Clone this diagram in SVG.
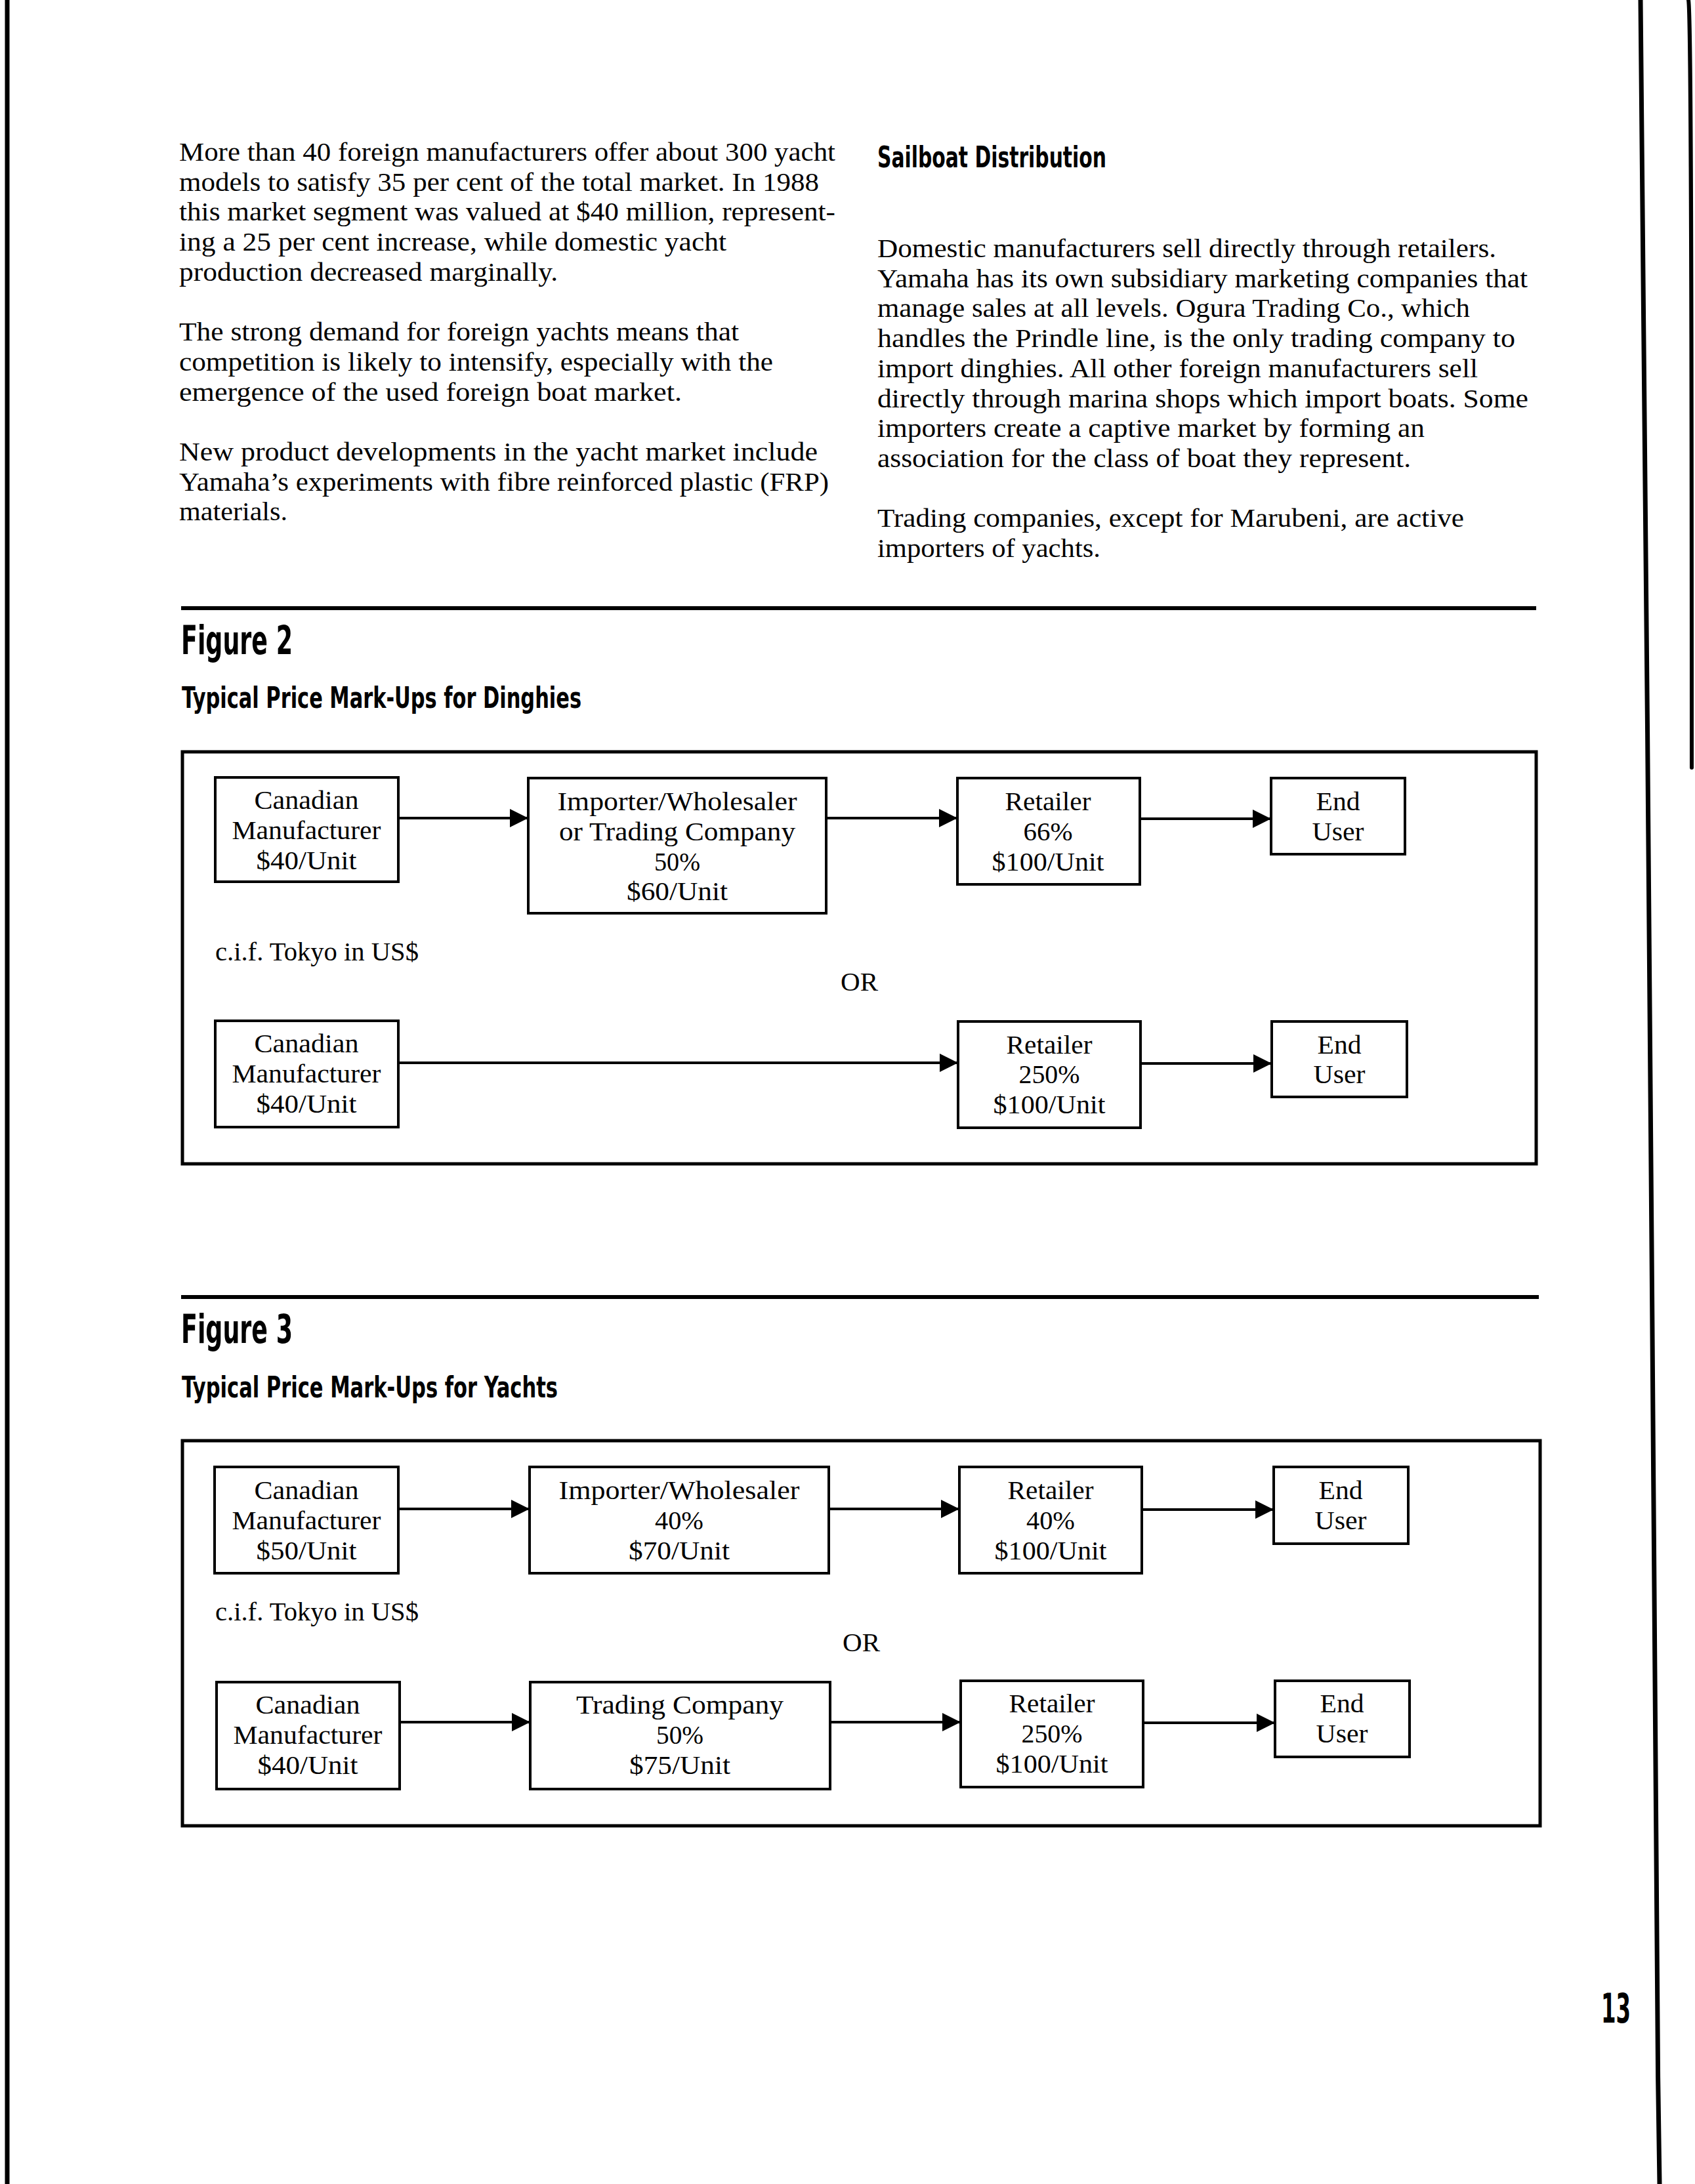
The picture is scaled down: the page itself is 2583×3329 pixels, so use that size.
<svg xmlns="http://www.w3.org/2000/svg" width="2583" height="3329" viewBox="0 0 2583 3329">
<style>
.body{font-family:"Liberation Serif","Times New Roman",serif;font-size:40px;fill:#000}
.nt{font-family:"Liberation Serif","Times New Roman",serif;font-size:41px;fill:#000;text-anchor:middle}
.hd{font-family:"Liberation Sans Narrow","DejaVu Sans Condensed","Liberation Sans",Arial,sans-serif;font-weight:bold;fill:#000}
.box{fill:#fff;stroke:#000;stroke-width:4}
.frame{fill:none;stroke:#000;stroke-width:5}
.rule{stroke:#000;stroke-width:6}
.conn{stroke:#000;stroke-width:4;fill:none;marker-end:url(#arr)}
.edge{stroke:#000;fill:none;stroke-linecap:round}
</style>
<defs>
<marker id="arr" markerUnits="userSpaceOnUse" markerWidth="28" markerHeight="28" refX="28" refY="14" orient="auto">
<path d="M0,0 L28,14 L0,28 z" fill="#000"/>
</marker>
</defs>
<rect x="0" y="0" width="2583" height="3329" fill="#fff"/>

<!-- page edges -->
<g id="page-edges">
<line class="edge" x1="11" y1="0" x2="11" y2="3329" stroke-width="7"/>
<path class="edge" d="M2500,0 C2506,500 2512,1300 2517,1900 C2521,2500 2522,2900 2529,3329" stroke-width="7"/>
<path class="edge" d="M2573,0 C2577,20 2578,400 2578,1170" stroke-width="6"/>
</g>

<!-- left column text -->
<g id="left-text" class="body">
<text x="273" y="245" textLength="1000" lengthAdjust="spacingAndGlyphs">More than 40 foreign manufacturers offer about 300 yacht</text>
<text x="273" y="291" textLength="975" lengthAdjust="spacingAndGlyphs">models to satisfy 35 per cent of the total market. In 1988</text>
<text x="273" y="336" textLength="1000" lengthAdjust="spacingAndGlyphs">this market segment was valued at $40 million, represent-</text>
<text x="273" y="382" textLength="834" lengthAdjust="spacingAndGlyphs">ing a 25 per cent increase, while domestic yacht</text>
<text x="273" y="428" textLength="577" lengthAdjust="spacingAndGlyphs">production decreased marginally.</text>
<text x="273" y="519" textLength="853" lengthAdjust="spacingAndGlyphs">The strong demand for foreign yachts means that</text>
<text x="273" y="565" textLength="905" lengthAdjust="spacingAndGlyphs">competition is likely to intensify, especially with the</text>
<text x="273" y="611" textLength="766" lengthAdjust="spacingAndGlyphs">emergence of the used foreign boat market.</text>
<text x="273" y="702" textLength="973" lengthAdjust="spacingAndGlyphs">New product developments in the yacht market include</text>
<text x="273" y="748" textLength="990" lengthAdjust="spacingAndGlyphs">Yamaha’s experiments with fibre reinforced plastic (FRP)</text>
<text x="273" y="793" textLength="165" lengthAdjust="spacingAndGlyphs">materials.</text>
</g>

<!-- right column text -->
<text id="sailboat-heading" class="hd" x="1337" y="255" font-size="45" textLength="349" lengthAdjust="spacingAndGlyphs">Sailboat Distribution</text>
<g id="right-text" class="body">
<text x="1337" y="392" textLength="943" lengthAdjust="spacingAndGlyphs">Domestic manufacturers sell directly through retailers.</text>
<text x="1337" y="438" textLength="991" lengthAdjust="spacingAndGlyphs">Yamaha has its own subsidiary marketing companies that</text>
<text x="1337" y="483" textLength="903" lengthAdjust="spacingAndGlyphs">manage sales at all levels. Ogura Trading Co., which</text>
<text x="1337" y="529" textLength="972" lengthAdjust="spacingAndGlyphs">handles the Prindle line, is the only trading company to</text>
<text x="1337" y="575" textLength="915" lengthAdjust="spacingAndGlyphs">import dinghies. All other foreign manufacturers sell</text>
<text x="1337" y="621" textLength="992" lengthAdjust="spacingAndGlyphs">directly through marina shops which import boats. Some</text>
<text x="1337" y="666" textLength="834" lengthAdjust="spacingAndGlyphs">importers create a captive market by forming an</text>
<text x="1337" y="712" textLength="813" lengthAdjust="spacingAndGlyphs">association for the class of boat they represent.</text>
<text x="1337" y="803" textLength="894" lengthAdjust="spacingAndGlyphs">Trading companies, except for Marubeni, are active</text>
<text x="1337" y="849" textLength="340" lengthAdjust="spacingAndGlyphs">importers of yachts.</text>
</g>

<!-- Figure 2 -->
<g id="figure2-header">
<line class="rule" x1="276" y1="927" x2="2341" y2="927"/>
<text class="hd" x="276" y="997" font-size="61" textLength="170" lengthAdjust="spacingAndGlyphs">Figure 2</text>
<text class="hd" x="277" y="1079" font-size="45" textLength="609" lengthAdjust="spacingAndGlyphs">Typical Price Mark-Ups for Dinghies</text>
</g>
<rect id="figure2-frame" class="frame" x="278" y="1146" width="2063" height="628"/>

<g id="fig2-connectors">
<line class="conn" x1="607" y1="1247" x2="805" y2="1247"/>
<line class="conn" x1="1259" y1="1247" x2="1459" y2="1247"/>
<line class="conn" x1="1737" y1="1248" x2="1937" y2="1248"/>
<line class="conn" x1="607" y1="1620" x2="1460" y2="1620"/>
<line class="conn" x1="1738" y1="1621" x2="1938" y2="1621"/>
</g>

<g id="f2-manufacturer-a">
<rect class="box" x="328" y="1185" width="279" height="159"/>
<text class="nt" x="467" y="1233" textLength="159" lengthAdjust="spacingAndGlyphs">Canadian</text>
<text class="nt" x="467" y="1279" textLength="227" lengthAdjust="spacingAndGlyphs">Manufacturer</text>
<text class="nt" x="467" y="1325" textLength="153" lengthAdjust="spacingAndGlyphs">$40/Unit</text>
</g>
<g id="f2-importer">
<rect class="box" x="805" y="1186" width="454" height="206"/>
<text class="nt" x="1032" y="1235" textLength="365" lengthAdjust="spacingAndGlyphs">Importer/Wholesaler</text>
<text class="nt" x="1032" y="1281" textLength="360" lengthAdjust="spacingAndGlyphs">or Trading Company</text>
<text class="nt" x="1032" y="1327" textLength="70" lengthAdjust="spacingAndGlyphs">50%</text>
<text class="nt" x="1032" y="1372" textLength="154" lengthAdjust="spacingAndGlyphs">$60/Unit</text>
</g>
<g id="f2-retailer-a">
<rect class="box" x="1459" y="1186" width="278" height="162"/>
<text class="nt" x="1597" y="1235" textLength="131" lengthAdjust="spacingAndGlyphs">Retailer</text>
<text class="nt" x="1597" y="1281" textLength="75" lengthAdjust="spacingAndGlyphs">66%</text>
<text class="nt" x="1597" y="1327" textLength="171" lengthAdjust="spacingAndGlyphs">$100/Unit</text>
</g>
<g id="f2-enduser-a">
<rect class="box" x="1937" y="1186" width="204" height="116"/>
<text class="nt" x="2039" y="1235" textLength="67" lengthAdjust="spacingAndGlyphs">End</text>
<text class="nt" x="2039" y="1281" textLength="79" lengthAdjust="spacingAndGlyphs">User</text>
</g>

<text id="f2-cif" class="body" x="328" y="1464" textLength="310" lengthAdjust="spacingAndGlyphs">c.i.f. Tokyo in US$</text>
<text id="f2-or" class="body" x="1281" y="1510" textLength="57" lengthAdjust="spacingAndGlyphs">OR</text>

<g id="f2-manufacturer-b">
<rect class="box" x="328" y="1556" width="279" height="162"/>
<text class="nt" x="467" y="1604" textLength="159" lengthAdjust="spacingAndGlyphs">Canadian</text>
<text class="nt" x="467" y="1650" textLength="227" lengthAdjust="spacingAndGlyphs">Manufacturer</text>
<text class="nt" x="467" y="1696" textLength="153" lengthAdjust="spacingAndGlyphs">$40/Unit</text>
</g>
<g id="f2-retailer-b">
<rect class="box" x="1460" y="1557" width="278" height="162"/>
<text class="nt" x="1599" y="1606" textLength="131" lengthAdjust="spacingAndGlyphs">Retailer</text>
<text class="nt" x="1599" y="1651" textLength="93" lengthAdjust="spacingAndGlyphs">250%</text>
<text class="nt" x="1599" y="1697" textLength="171" lengthAdjust="spacingAndGlyphs">$100/Unit</text>
</g>
<g id="f2-enduser-b">
<rect class="box" x="1938" y="1557" width="206" height="115"/>
<text class="nt" x="2041" y="1606" textLength="67" lengthAdjust="spacingAndGlyphs">End</text>
<text class="nt" x="2041" y="1651" textLength="79" lengthAdjust="spacingAndGlyphs">User</text>
</g>

<!-- Figure 3 -->
<g id="figure3-header">
<line class="rule" x1="276" y1="1977" x2="2345" y2="1977"/>
<text class="hd" x="276" y="2047" font-size="61" textLength="170" lengthAdjust="spacingAndGlyphs">Figure 3</text>
<text class="hd" x="277" y="2130" font-size="45" textLength="573" lengthAdjust="spacingAndGlyphs">Typical Price Mark-Ups for Yachts</text>
</g>
<rect id="figure3-frame" class="frame" x="278" y="2196" width="2069" height="587"/>

<g id="fig3-connectors">
<line class="conn" x1="607" y1="2300" x2="807" y2="2300"/>
<line class="conn" x1="1263" y1="2300" x2="1462" y2="2300"/>
<line class="conn" x1="1740" y1="2301" x2="1941" y2="2301"/>
<line class="conn" x1="609" y1="2625" x2="808" y2="2625"/>
<line class="conn" x1="1265" y1="2625" x2="1464" y2="2625"/>
<line class="conn" x1="1742" y1="2626" x2="1943" y2="2626"/>
</g>

<g id="f3-manufacturer-a">
<rect class="box" x="327" y="2236" width="280" height="162"/>
<text class="nt" x="467" y="2285" textLength="159" lengthAdjust="spacingAndGlyphs">Canadian</text>
<text class="nt" x="467" y="2331" textLength="227" lengthAdjust="spacingAndGlyphs">Manufacturer</text>
<text class="nt" x="467" y="2377" textLength="153" lengthAdjust="spacingAndGlyphs">$50/Unit</text>
</g>
<g id="f3-importer">
<rect class="box" x="807" y="2236" width="456" height="162"/>
<text class="nt" x="1035" y="2285" textLength="367" lengthAdjust="spacingAndGlyphs">Importer/Wholesaler</text>
<text class="nt" x="1035" y="2331" textLength="74" lengthAdjust="spacingAndGlyphs">40%</text>
<text class="nt" x="1035" y="2377" textLength="154" lengthAdjust="spacingAndGlyphs">$70/Unit</text>
</g>
<g id="f3-retailer-a">
<rect class="box" x="1462" y="2236" width="278" height="162"/>
<text class="nt" x="1601" y="2285" textLength="131" lengthAdjust="spacingAndGlyphs">Retailer</text>
<text class="nt" x="1601" y="2331" textLength="74" lengthAdjust="spacingAndGlyphs">40%</text>
<text class="nt" x="1601" y="2377" textLength="171" lengthAdjust="spacingAndGlyphs">$100/Unit</text>
</g>
<g id="f3-enduser-a">
<rect class="box" x="1941" y="2236" width="205" height="117"/>
<text class="nt" x="2043" y="2285" textLength="67" lengthAdjust="spacingAndGlyphs">End</text>
<text class="nt" x="2043" y="2331" textLength="79" lengthAdjust="spacingAndGlyphs">User</text>
</g>

<text id="f3-cif" class="body" x="328" y="2470" textLength="310" lengthAdjust="spacingAndGlyphs">c.i.f. Tokyo in US$</text>
<text id="f3-or" class="body" x="1284" y="2517" textLength="57" lengthAdjust="spacingAndGlyphs">OR</text>

<g id="f3-manufacturer-b">
<rect class="box" x="330" y="2564" width="279" height="163"/>
<text class="nt" x="469" y="2612" textLength="159" lengthAdjust="spacingAndGlyphs">Canadian</text>
<text class="nt" x="469" y="2658" textLength="227" lengthAdjust="spacingAndGlyphs">Manufacturer</text>
<text class="nt" x="469" y="2704" textLength="153" lengthAdjust="spacingAndGlyphs">$40/Unit</text>
</g>
<g id="f3-trading">
<rect class="box" x="808" y="2564" width="457" height="163"/>
<text class="nt" x="1036" y="2612" textLength="316" lengthAdjust="spacingAndGlyphs">Trading Company</text>
<text class="nt" x="1036" y="2658" textLength="72" lengthAdjust="spacingAndGlyphs">50%</text>
<text class="nt" x="1036" y="2704" textLength="154" lengthAdjust="spacingAndGlyphs">$75/Unit</text>
</g>
<g id="f3-retailer-b">
<rect class="box" x="1464" y="2562" width="278" height="162"/>
<text class="nt" x="1603" y="2610" textLength="131" lengthAdjust="spacingAndGlyphs">Retailer</text>
<text class="nt" x="1603" y="2656" textLength="93" lengthAdjust="spacingAndGlyphs">250%</text>
<text class="nt" x="1603" y="2702" textLength="171" lengthAdjust="spacingAndGlyphs">$100/Unit</text>
</g>
<g id="f3-enduser-b">
<rect class="box" x="1943" y="2562" width="205" height="116"/>
<text class="nt" x="2045" y="2610" textLength="67" lengthAdjust="spacingAndGlyphs">End</text>
<text class="nt" x="2045" y="2656" textLength="79" lengthAdjust="spacingAndGlyphs">User</text>
</g>

<text id="page-number" class="hd" x="2440" y="3083" font-size="63" font-weight="normal" textLength="45" lengthAdjust="spacingAndGlyphs">13</text>
</svg>
